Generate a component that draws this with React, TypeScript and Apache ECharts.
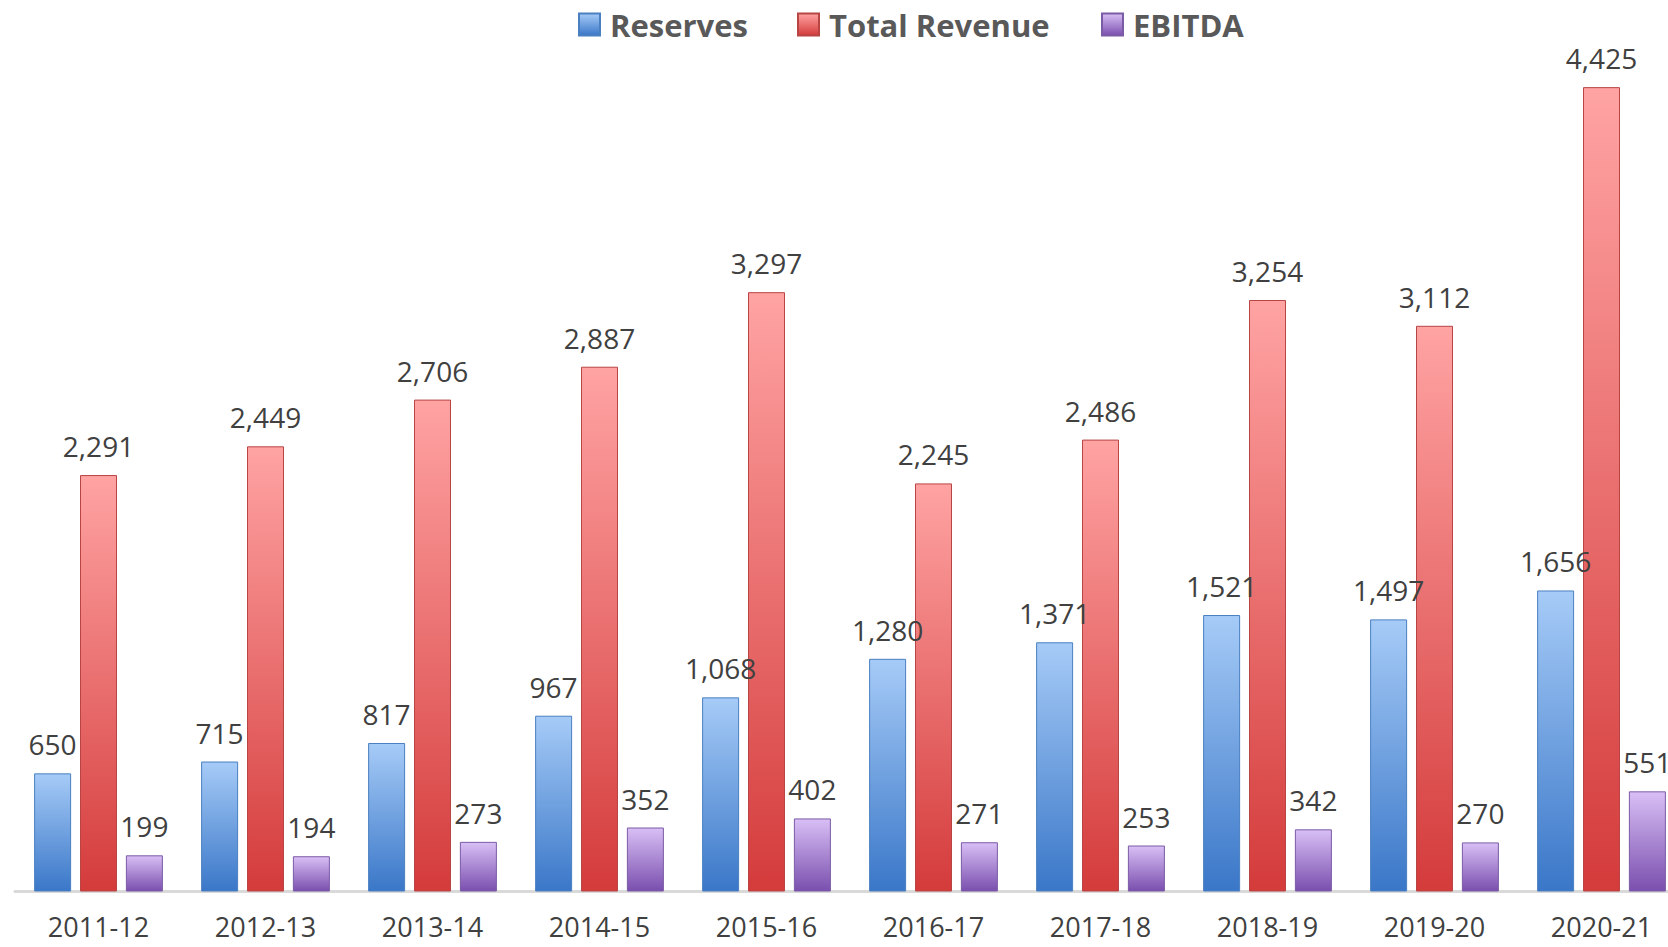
import React, { useEffect, useRef } from "react";
import * as echarts from "echarts";

const categories = ["2011-12", "2012-13", "2013-14", "2014-15", "2015-16", "2016-17", "2017-18", "2018-19", "2019-20", "2020-21"];
const reserves = [650, 715, 817, 967, 1068, 1280, 1371, 1521, 1497, 1656];
const totalRevenue = [2291, 2449, 2706, 2887, 3297, 2245, 2486, 3254, 3112, 4425];
const ebitda = [199, 194, 273, 352, 402, 271, 253, 342, 270, 551];

const grad = (top: string, bottom: string) =>
  new echarts.graphic.LinearGradient(0, 0, 0, 1, [
    { offset: 0, color: top },
    { offset: 1, color: bottom },
  ]);

const labelStyle = {
  show: true,
  position: "top",
  distance: 14,
  color: "#404040",
  fontFamily: "Open Sans",
  fontSize: 28,
  lineHeight: 30,
  formatter: (p: any) => Number(p.value).toLocaleString("en-US"),
};

export default function App() {
  const ref = useRef<HTMLDivElement>(null);
  useEffect(() => {
    const chart = echarts.init(ref.current!, null, { renderer: "svg" });
    const legendBase = {
      top: 9,
      padding: 0,
      icon: "rect",
      itemWidth: 21,
      itemHeight: 22,
      textStyle: { color: "#595959", fontFamily: "Open Sans", fontWeight: "bold", fontSize: 31, padding: [0, 0, 0, 5] },
      itemGap: 0,
    };
    chart.setOption({
      animation: false,
      backgroundColor: "#ffffff",
      legend: [
        { ...legendBase, left: 578, data: ["Reserves"] },
        { ...legendBase, left: 797, data: ["Total Revenue"] },
        { ...legendBase, left: 1101, data: ["EBITDA"] },
      ],
      grid: { left: 15, width: 1670, top: 73.5, bottom: 55.5, containLabel: false },
      xAxis: {
        type: "category",
        data: categories,
        axisLine: { show: true, lineStyle: { color: "#d9d9d9", width: 3 } },
        axisTick: { show: false },
        axisLabel: { color: "#404040", fontFamily: "Open Sans", fontSize: 27, lineHeight: 26, margin: 22, interval: 0 },
      },
      yAxis: {
        type: "value",
        min: 0,
        max: 4500,
        show: false,
        splitLine: { show: false },
      },
      series: [
        {
          name: "Reserves",
          type: "bar",
          data: reserves,
          barWidth: 37,
          barGap: "24%",
          itemStyle: { color: grad("#a6cbf7", "#3a77c8"), borderColor: "#4a7fc0", borderWidth: 1 },
          label: labelStyle,
        },
        {
          name: "Total Revenue",
          type: "bar",
          data: totalRevenue,
          barWidth: 37,
          barGap: "24%",
          itemStyle: { color: grad("#ffa3a3", "#d43b3b"), borderColor: "#b84444", borderWidth: 1 },
          label: labelStyle,
        },
        {
          name: "EBITDA",
          type: "bar",
          data: ebitda,
          barWidth: 37,
          barGap: "24%",
          itemStyle: { color: grad("#d8bff5", "#7a4fae"), borderColor: "#7b5ba6", borderWidth: 1 },
          label: labelStyle,
        },
      ],
    });
    return () => chart.dispose();
  }, []);
  return (
    <div style={{ position: "fixed", left: 0, top: 0, width: 1668, height: 947, overflow: "hidden" }}>
      <div ref={ref} style={{ position: "absolute", left: 0, top: 0, width: 1700, height: 947 }} />
    </div>
  );
}
